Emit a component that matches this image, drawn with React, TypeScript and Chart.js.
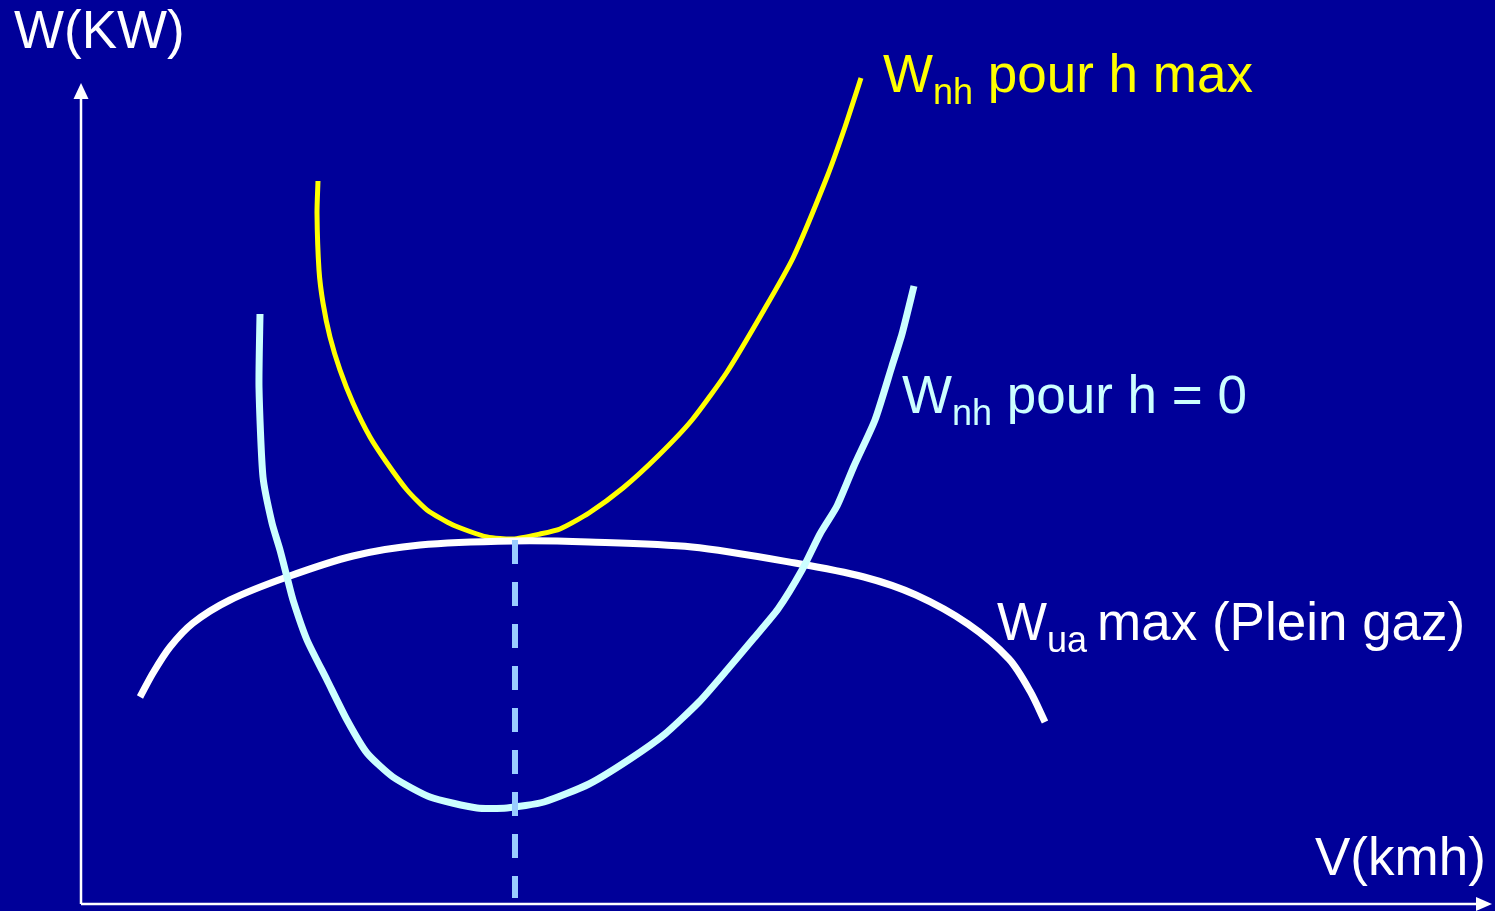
import React, { useEffect, useRef } from "react";
import { Chart, registerables } from "chart.js";

Chart.register(...registerables);

// ---- Data (V in km/h units, W in kW units, arbitrary scale) ----
const V_RANGE = [-8.1, 141.4];
const W_RANGE = [-0.7, 90.4];
const V_AXIS_END = 141.1;
const W_AXIS_END = 82.1;

// Wnh pour h max (yellow)
const V_YELLOW = [23.7, 23.6, 23.8, 24.2, 24.9, 25.9, 27.2, 28.9, 30.6, 32.6, 34.6, 37.2, 40.6, 43.2, 45.9, 47.9, 50.8, 54.2, 57.7, 61.1, 64.6, 68.3, 71.2, 74.6, 76.4, 78.0];
const W_YELLOW = [72.3, 69.1, 63.4, 60.1, 56.7, 53.4, 50.1, 46.7, 44.1, 41.4, 39.4, 37.9, 36.7, 36.5, 37.0, 37.5, 39.1, 41.6, 44.8, 48.4, 53.2, 59.4, 64.6, 72.7, 77.7, 82.6];

// Wnh pour h = 0 (light cyan)
const V_CYAN = [17.9, 17.8, 18.2, 19.1, 19.9, 20.6, 21.2, 22.6, 24.6, 26.6, 28.6, 31.2, 34.9, 39.6, 42.6, 46.3, 50.8, 54.9, 58.4, 61.8, 64.6, 67.3, 69.7, 72.1, 73.9, 75.6, 77.3, 79.4, 81.1, 82.1, 83.3];
const W_CYAN = [59.0, 51.7, 42.7, 38.1, 35.4, 32.7, 30.4, 26.4, 22.4, 18.4, 15.1, 12.7, 10.7, 9.6, 9.6, 10.2, 12.0, 14.5, 17.0, 20.2, 23.4, 26.6, 29.5, 33.4, 37.0, 39.8, 43.8, 48.4, 53.8, 57.0, 61.8];

// Wua max (Plein gaz) (white)
const V_WHITE = [5.9, 7.2, 8.9, 11.2, 14.9, 20.6, 27.2, 33.9, 43.2, 50.8, 61.1, 71.4, 78.3, 83.5, 88.7, 92.8, 94.9, 96.4];
const W_WHITE = [20.7, 23.1, 25.7, 28.1, 30.4, 32.7, 34.8, 35.9, 36.3, 36.2, 35.7, 34.1, 32.7, 30.9, 28.0, 24.5, 21.3, 18.2];

// Optimum speed marker (dashed)
const V_OPT = [43.4, 43.4];
const W_OPT = [36.4, 0.6];

// ---- Text labels ----
type Seg = { t: string; sub?: boolean };
const LABELS: { segs: Seg[]; v: number; w: number; color: string }[] = [
  { segs: [{ t: "W(KW)" }], v: -6.7, w: 85.6, color: "#FFFFFF" },
  { segs: [{ t: "V(kmh)" }], v: 123.4, w: 2.9, color: "#FFFFFF" },
  { segs: [{ t: "W" }, { t: "nh", sub: true }, { t: " pour h max" }], v: 80.2, w: 81.2, color: "#FFFF00" },
  { segs: [{ t: "W" }, { t: "nh", sub: true }, { t: " pour h = 0" }], v: 82.1, w: 49.1, color: "#CCFFFF" },
  { segs: [{ t: "W" }, { t: "ua ", sub: true }, { t: "max (Plein gaz)" }], v: 91.6, w: 26.4, color: "#FFFFFF" },
];

const FONT = '"Liberation Sans", Arial, sans-serif';
const BG = "#000099";

const zip = (xs: number[], ys: number[]) => xs.map((x, i) => ({ x, y: ys[i] }));

const decorPlugin = {
  id: "decor",
  beforeDraw(chart: any) {
    const { ctx, width, height } = chart;
    ctx.save();
    ctx.fillStyle = BG;
    ctx.fillRect(0, 0, width, height);
    ctx.restore();
  },
  beforeDatasetsDraw(chart: any) {
    const { ctx } = chart;
    const xs = chart.scales.x;
    const ys = chart.scales.y;
    const x0 = xs.getPixelForValue(0);
    const y0 = ys.getPixelForValue(0);
    const xEnd = xs.getPixelForValue(V_AXIS_END);
    const yEnd = ys.getPixelForValue(W_AXIS_END);
    ctx.save();
    ctx.strokeStyle = "#FFFFFF";
    ctx.fillStyle = "#FFFFFF";
    ctx.lineWidth = 2.5;
    ctx.beginPath();
    ctx.moveTo(x0, y0);
    ctx.lineTo(x0, yEnd + 14);
    ctx.moveTo(x0, y0);
    ctx.lineTo(xEnd - 14, y0);
    ctx.stroke();
    // arrow heads
    ctx.beginPath();
    ctx.moveTo(x0, yEnd);
    ctx.lineTo(x0 - 7.5, yEnd + 16);
    ctx.lineTo(x0 + 7.5, yEnd + 16);
    ctx.closePath();
    ctx.fill();
    ctx.beginPath();
    ctx.moveTo(xEnd, y0);
    ctx.lineTo(xEnd - 16, y0 - 7);
    ctx.lineTo(xEnd - 16, y0 + 7);
    ctx.closePath();
    ctx.fill();
    ctx.restore();
  },
  afterDatasetsDraw(chart: any) {
    const { ctx } = chart;
    const xs = chart.scales.x;
    const ys = chart.scales.y;
    ctx.save();
    ctx.textBaseline = "alphabetic";
    ctx.textAlign = "left";
    for (const lab of LABELS) {
      let px = xs.getPixelForValue(lab.v);
      const py = ys.getPixelForValue(lab.w);
      ctx.fillStyle = lab.color;
      for (const s of lab.segs) {
        ctx.font = s.sub ? `36px ${FONT}` : `53px ${FONT}`;
        ctx.fillText(s.t, px, s.sub ? py + 11.5 : py);
        px += ctx.measureText(s.t).width;
      }
    }
    ctx.restore();
  },
};

export default function App() {
  const canvasRef = useRef<HTMLCanvasElement | null>(null);

  useEffect(() => {
    document.body.style.margin = "0";
    document.body.style.background = BG;
    const canvas = canvasRef.current;
    if (!canvas) return;
    const chart = new Chart(canvas, {
      type: "scatter",
      data: {
        datasets: [
          {
            label: "Optimum",
            data: zip(V_OPT, W_OPT),
            showLine: true,
            borderColor: "#99CCFF",
            borderWidth: 6,
            borderDash: [24, 18],
            borderCapStyle: "butt",
            pointRadius: 0,
            order: 0,
          },
          {
            label: "Wnh pour h = 0",
            data: zip(V_CYAN, W_CYAN),
            showLine: true,
            borderColor: "#CCFFFF",
            borderWidth: 7,
            tension: 0.2,
            borderCapStyle: "butt",
            borderJoinStyle: "round",
            pointRadius: 0,
            order: 1,
          },
          {
            label: "Wua max (Plein gaz)",
            data: zip(V_WHITE, W_WHITE),
            showLine: true,
            borderColor: "#FFFFFF",
            borderWidth: 7,
            tension: 0.3,
            borderCapStyle: "butt",
            borderJoinStyle: "round",
            pointRadius: 0,
            order: 2,
          },
          {
            label: "Wnh pour h max",
            data: zip(V_YELLOW, W_YELLOW),
            showLine: true,
            borderColor: "#FFFF00",
            borderWidth: 5,
            tension: 0.2,
            borderCapStyle: "butt",
            borderJoinStyle: "round",
            pointRadius: 0,
            order: 3,
          },
        ],
      },
      options: {
        animation: false,
        responsive: true,
        maintainAspectRatio: false,
        layout: { padding: 0 },
        plugins: {
          legend: { display: false },
          tooltip: { enabled: false },
        },
        events: [],
        scales: {
          x: { type: "linear", min: V_RANGE[0], max: V_RANGE[1], display: false },
          y: { type: "linear", min: W_RANGE[0], max: W_RANGE[1], display: false },
        },
      },
      plugins: [decorPlugin],
    } as any);
    return () => chart.destroy();
  }, []);

  return (
    <div style={{ position: "fixed", left: 0, top: 0, width: "1495px", height: "911px", background: BG }}>
      <canvas ref={canvasRef} />
    </div>
  );
}
